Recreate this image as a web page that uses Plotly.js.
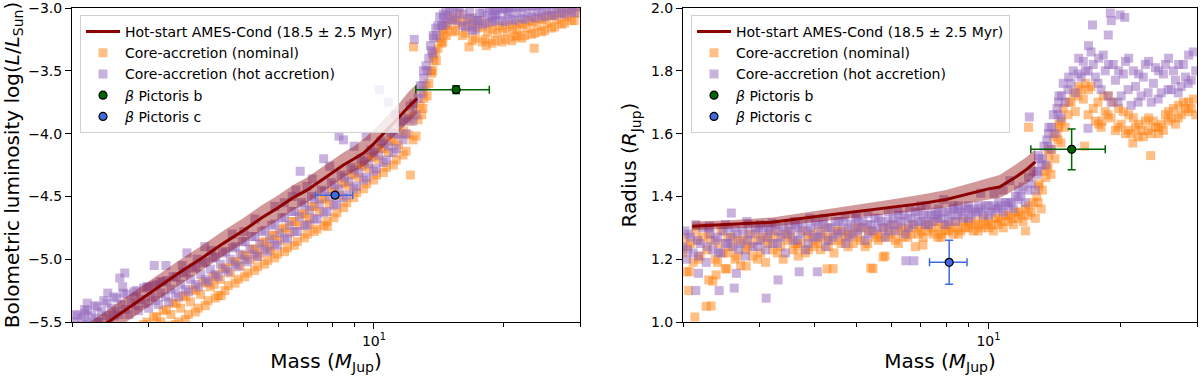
<!DOCTYPE html>
<html>
<head>
<meta charset="utf-8">
<script src="https://cdn.plot.ly/plotly-3.0.1.min.js"></script>
<style>html,body{margin:0;padding:0;background:#fff;}#chart{width:1200px;height:376px;}</style>
</head>
<body>
<div id="chart"></div>
<script>
// ---------------- Data ----------------
const seriesNames = ['Hot-start AMES-Cond (18.5 ± 2.5 Myr)', 'Core-accretion (nominal)', 'Core-accretion (hot accretion)'];

// Hot-start AMES-Cond track (luminosity panel)
const hsMassL = [2.0, 2.5, 3, 3.5, 4, 4.5, 5, 5.5, 6, 6.5, 7, 7.5, 8, 8.5, 9, 9.5, 10, 10.5, 11, 11.5, 12, 12.6];
const hsLum   = [-5.70, -5.47, -5.28, -5.12, -4.99, -4.87, -4.77, -4.67, -4.59, -4.51, -4.45, -4.38, -4.31, -4.25, -4.20, -4.15, -4.08, -4.00, -3.93, -3.86, -3.79, -3.72];
const hsLumUp = [-5.60, -5.37, -5.18, -5.02, -4.89, -4.77, -4.67, -4.57, -4.49, -4.41, -4.35, -4.28, -4.21, -4.15, -4.10, -4.04, -3.97, -3.89, -3.82, -3.75, -3.67, -3.60];
const hsLumLo = [-5.80, -5.57, -5.38, -5.22, -5.09, -4.97, -4.87, -4.77, -4.69, -4.61, -4.55, -4.48, -4.41, -4.35, -4.30, -4.26, -4.19, -4.11, -4.04, -3.97, -3.91, -3.84];

// Hot-start AMES-Cond track (radius panel)
const hsMassR = [2.1, 2.5, 3.2, 4, 5, 6, 7, 8, 9, 10, 10.6, 11.5, 12.2, 12.8];
const hsRad   = [1.305, 1.310, 1.318, 1.335, 1.352, 1.365, 1.377, 1.390, 1.408, 1.424, 1.430, 1.460, 1.485, 1.510];
const hsRadUp = [1.320, 1.323, 1.333, 1.353, 1.372, 1.390, 1.405, 1.420, 1.440, 1.458, 1.468, 1.500, 1.525, 1.550];
const hsRadLo = [1.292, 1.297, 1.303, 1.318, 1.333, 1.345, 1.355, 1.365, 1.378, 1.390, 1.395, 1.420, 1.440, 1.465];

// Core-accretion (nominal): mass, luminosity, radius
const nomMass = [
 2.0,2.02,2.04, 2.08,2.11,2.14, 2.19,2.22,2.26, 2.31,2.34,2.37, 2.44,2.47,2.5, 2.57,2.6,2.63, 2.71,2.74,2.78, 2.85,2.89,2.93,
 3.01,3.05,3.09, 3.17,3.21,3.25, 3.35,3.39,3.43, 3.53,3.57,3.62, 3.72,3.76,3.81, 3.92,3.97,4.02, 4.13,4.18,4.24, 4.36,4.41,4.46,
 4.6,4.65,4.71, 4.85,4.9,4.96, 5.1,5.16,5.22, 5.38,5.44,5.5, 5.68,5.74,5.8, 5.98,6.05,6.12, 6.31,6.38,6.45, 6.65,6.72,6.8,
 7.01,7.09,7.17, 7.39,7.47,7.56, 7.79,7.88,7.97, 8.21,8.3,8.4, 8.65,8.75,8.85, 9.12,9.23,9.34, 9.62,9.73,9.84, 10.14,10.26,10.38,
 10.69,10.81,10.94, 11.27,11.4,11.53, 11.87,12.0,12.14, 12.52,12.66,12.8, 12.9,13.05,13.2, 13.28,13.4,13.52, 13.6,13.75,13.9,
 13.95,14.07,14.2, 14.35,14.5,14.65, 14.7,14.83,14.98, 15.45,15.63,15.8, 16.3,16.48,16.66, 17.17,17.37,17.56, 18.1,18.31,18.5,
 19.08,19.3,19.52, 20.12,20.35,20.58, 21.2,21.45,21.7, 22.35,22.61,22.86, 23.57,23.84,24.1, 24.85,25.13,25.4, 26.2,26.49,26.78,
 27.6,27.92,28.23, 29.1,29.43,29.8,
 2.05,2.06, 2.16,2.17, 2.27,2.29, 2.4,2.41, 2.53,2.54, 2.66,2.68, 2.81,2.82, 2.96,2.98, 3.12,3.14, 3.29,3.31, 3.47,3.49,
 3.66,3.67, 3.86,3.87, 4.07,4.08, 4.29,4.3, 4.52,4.54, 4.77,4.78, 5.02,5.04, 5.29,5.31, 5.58,5.6, 5.89,5.9, 6.21,6.22,
 6.54,6.56, 6.9,6.91, 7.27,7.29, 7.66,7.69, 8.08,8.1, 8.51,8.54, 8.98,9.0, 9.47,9.49, 9.98,10.01, 10.52,10.55, 11.09,11.12,
 11.68,11.72, 12.31,12.35, 12.98,13.02, 13.68,13.72, 14.43,14.47, 15.2,15.26, 16.02,16.08, 16.9,16.94, 17.81,17.87,
 18.77,18.83, 19.79,19.85, 20.87,20.93, 22.0,22.06, 23.19,23.25, 24.45,24.51, 25.77,25.83, 27.17,27.23, 28.64,28.7,
 12.15, 23.5, 12.35, 16.6, 18.2, 21.4, 2.13, 2.32, 2.38, 2.29, 2.07, 2.52, 2.79, 4.27, 5.38, 5.74, 7.08, 7.8, 4.43
];
const nomLum = [
 -6.05,-5.95,-5.88, -5.98,-5.92,-5.85, -5.95,-5.87,-5.8, -5.9,-5.82,-5.74, -5.84,-5.76,-5.68, -5.78,-5.7,-5.62, -5.74,-5.66,-5.58, -5.7,-5.6,-5.52,
 -5.63,-5.55,-5.46, -5.58,-5.5,-5.41, -5.53,-5.44,-5.35, -5.5,-5.39,-5.29, -5.44,-5.34,-5.24, -5.39,-5.28,-5.18, -5.33,-5.22,-5.14, -5.29,-5.16,-5.07,
 -5.21,-5.11,-5.02, -5.16,-5.05,-4.97, -5.11,-5.0,-4.92, -5.06,-4.95,-4.87, -5.01,-4.9,-4.81, -4.96,-4.85,-4.76, -4.91,-4.79,-4.7, -4.86,-4.73,-4.64,
 -4.8,-4.67,-4.58, -4.76,-4.62,-4.52, -4.7,-4.56,-4.46, -4.63,-4.49,-4.4, -4.55,-4.42,-4.33, -4.47,-4.35,-4.26, -4.4,-4.28,-4.19, -4.33,-4.21,-4.12,
 -4.27,-4.15,-4.06, -4.21,-4.09,-4.0, -4.14,-4.01,-3.9, -4.02,-3.89,-3.78, -3.85,-3.72,-3.62, -3.7,-3.6,-3.5, -3.52,-3.42,-3.35,
 -3.42,-3.32,-3.24, -3.28,-3.2,-3.14, -3.22,-3.14,-3.07, -3.18,-3.12,-3.05, -3.2,-3.14,-3.08, -3.24,-3.16,-3.1, -3.25,-3.19,-3.12,
 -3.26,-3.2,-3.14, -3.25,-3.19,-3.13, -3.23,-3.17,-3.12, -3.22,-3.16,-3.1, -3.2,-3.14,-3.08, -3.18,-3.12,-3.06, -3.15,-3.09,-3.04,
 -3.12,-3.07,-3.02, -3.1,-3.04,-2.99,
 -5.97,-5.9, -5.93,-5.84, -5.9,-5.79, -5.86,-5.72, -5.8,-5.66, -5.75,-5.62, -5.69,-5.56, -5.64,-5.5, -5.6,-5.46, -5.56,-5.4, -5.52,-5.35,
 -5.48,-5.3, -5.42,-5.25, -5.37,-5.19, -5.31,-5.13, -5.25,-5.07, -5.19,-5.02, -5.14,-4.97, -5.09,-4.92, -5.04,-4.86, -4.99,-4.81, -4.94,-4.75,
 -4.89,-4.7, -4.83,-4.64, -4.78,-4.58, -4.73,-4.52, -4.67,-4.46, -4.59,-4.39, -4.51,-4.32, -4.44,-4.25, -4.37,-4.18, -4.31,-4.12, -4.25,-4.06,
 -4.17,-3.98, -4.05,-3.86, -3.8,-3.66, -3.5,-3.38, -3.27,-3.17, -3.19,-3.09, -3.22,-3.11, -3.26,-3.13, -3.27,-3.15,
 -3.28,-3.17, -3.27,-3.16, -3.26,-3.15, -3.24,-3.13, -3.21,-3.11, -3.19,-3.09, -3.16,-3.06, -3.13,-3.04, -3.1,-3.01,
 -4.33, -3.32, -3.31, -3.31, -3.3, -3.22, -5.92, -5.85, -5.82, -5.8, -5.93, -5.74, -5.62, -5.2, -4.98, -4.93, -4.72, -4.74, -5.29
];
const nomRad = [
 1.22,1.27,1.16, 1.25,1.19,1.29, 1.21,1.27,1.05, 1.26,1.13,1.2, 1.29,1.22,1.17, 1.24,1.27,1.2, 1.18,1.26,1.23, 1.25,1.21,1.28,
 1.22,1.27,1.19, 1.26,1.23,1.29, 1.24,1.2,1.28, 1.27,1.23,1.25, 1.25,1.29,1.22, 1.28,1.24,1.26, 1.23,1.27,1.3, 1.26,1.17,1.29,
 1.25,1.29,1.27, 1.28,1.25,1.3, 1.26,1.3,1.24, 1.29,1.17,1.27, 1.27,1.3,1.21, 1.28,1.31,1.26, 1.3,1.27,1.29, 1.28,1.31,1.24,
 1.29,1.27,1.31, 1.3,1.28,1.32, 1.28,1.31,1.29, 1.3,1.28,1.32, 1.29,1.32,1.3, 1.31,1.29,1.32, 1.3,1.33,1.31, 1.31,1.29,1.33,
 1.32,1.3,1.34, 1.33,1.31,1.35, 1.34,1.32,1.36, 1.35,1.38,1.33, 1.4,1.44,1.36, 1.42,1.48,1.46, 1.5,1.53,1.47,
 1.55,1.59,1.52, 1.6,1.63,1.57, 1.64,1.68,1.62, 1.7,1.73,1.67, 1.74,1.71,1.76, 1.75,1.68,1.64, 1.62,1.72,1.67,
 1.65,1.7,1.61, 1.63,1.67,1.6, 1.6,1.65,1.62, 1.61,1.59,1.64, 1.6,1.64,1.62, 1.63,1.61,1.66, 1.65,1.68,1.63,
 1.66,1.7,1.68, 1.68,1.71,1.66,
 1.24,1.1, 1.26,1.2, 1.23,1.28, 1.19,1.25, 1.27,1.22, 1.21,1.26, 1.24,1.28, 1.2,1.26, 1.25,1.28, 1.22,1.27, 1.26,1.29,
 1.24,1.21, 1.27,1.23, 1.25,1.29, 1.27,1.24, 1.29,1.26, 1.24,1.28, 1.27,1.3, 1.25,1.29, 1.28,1.26, 1.3,1.27, 1.29,1.25,
 1.27,1.3, 1.3,1.28, 1.29,1.31, 1.27,1.3, 1.31,1.29, 1.3,1.28, 1.32,1.3, 1.29,1.31, 1.32,1.3, 1.31,1.33, 1.32,1.34,
 1.33,1.35, 1.34,1.37, 1.38,1.43, 1.49,1.55, 1.58,1.62, 1.66,1.7, 1.72,1.75, 1.66,1.74, 1.7,1.63,
 1.66,1.72, 1.62,1.68, 1.61,1.66, 1.59,1.63, 1.61,1.65, 1.62,1.6, 1.64,1.67, 1.65,1.69, 1.67,1.7,
 1.29, 1.53, 1.62, 1.56, 1.64, 1.57, 1.016, 1.051, 1.15, 1.134, 1.16, 1.169, 1.178, 1.169, 1.172, 1.207, 1.245, 1.27, 1.22
];

// Core-accretion (hot accretion): mass, luminosity, radius
const hotMass = [
 2.0,2.02,2.04, 2.08,2.11,2.14, 2.19,2.22,2.26, 2.31,2.34,2.37, 2.44,2.47,2.5, 2.57,2.6,2.63, 2.71,2.74,2.78, 2.85,2.89,2.93,
 3.01,3.05,3.09, 3.17,3.21,3.25, 3.35,3.39,3.43, 3.53,3.57,3.62, 3.72,3.76,3.81, 3.92,3.97,4.02, 4.13,4.18,4.24, 4.36,4.41,4.46,
 4.6,4.65,4.71, 4.85,4.9,4.96, 5.1,5.16,5.22, 5.38,5.44,5.5, 5.68,5.74,5.8, 5.98,6.05,6.12, 6.31,6.38,6.45, 6.65,6.72,6.8,
 7.01,7.09,7.17, 7.39,7.47,7.56, 7.79,7.88,7.97, 8.21,8.3,8.4, 8.65,8.75,8.85, 9.12,9.23,9.34, 9.62,9.73,9.84, 10.14,10.26,10.38,
 10.69,10.81,10.94, 11.27,11.4,11.53, 11.87,12.0,12.14, 12.52,12.66,12.8, 12.9,13.05,13.2, 13.28,13.4,13.52, 13.6,13.75,13.9,
 13.95,14.07,14.2, 14.35,14.5,14.65, 14.7,14.83,14.98, 15.45,15.63,15.8, 16.3,16.48,16.66, 17.17,17.37,17.56, 18.1,18.31,18.5,
 19.08,19.3,19.52, 20.12,20.35,20.58, 21.2,21.45,21.7, 22.35,22.61,22.86, 23.57,23.84,24.1, 24.85,25.13,25.4, 26.2,26.49,26.78,
 27.6,27.92,28.23, 29.1,29.43,29.8,
 2.05,2.06, 2.16,2.17, 2.27,2.29, 2.4,2.41, 2.53,2.54, 2.66,2.68, 2.81,2.82, 2.96,2.98, 3.12,3.14, 3.29,3.31, 3.47,3.49,
 3.66,3.67, 3.86,3.87, 4.07,4.08, 4.29,4.3, 4.52,4.54, 4.77,4.78, 5.02,5.04, 5.29,5.31, 5.58,5.6, 5.89,5.9, 6.21,6.22,
 6.54,6.56, 6.9,6.91, 7.27,7.29, 7.66,7.69, 8.08,8.1, 8.51,8.54, 8.98,9.0, 9.47,9.49, 9.98,10.01, 10.52,10.55, 11.09,11.12,
 11.68,11.72, 12.31,12.35, 12.98,13.02, 13.68,13.72, 14.43,14.47, 15.2,15.26, 16.02,16.08, 16.9,16.94, 17.81,17.87,
 18.77,18.83, 19.79,19.85, 20.87,20.93, 22.0,22.06, 23.19,23.25, 24.45,24.51, 25.77,25.83, 27.17,27.23, 28.64,28.7,
 2.5, 2.8, 3.2, 3.6, 4.2, 4.7, 5.3, 5.9, 6.6, 7.2, 7.9, 9.6, 2.3, 3.0, 3.9, 5.0, 6.2, 7.0,
 2.42, 2.65, 2.62, 3.1, 3.3, 3.69, 6.75, 7.65, 8.3, 12.4, 10.3, 10.8, 11.2, 2.14, 2.17, 2.58, 4.06, 6.47,
 19.0, 20.0, 20.5, 19.1, 17.3, 18.8, 16.9, 8.5, 9.0
];
const hotLum = [
 -5.6,-5.5,-5.44, -5.55,-5.47,-5.4, -5.52,-5.45,-5.37, -5.5,-5.42,-5.33, -5.47,-5.39,-5.3, -5.44,-5.36,-5.27, -5.44,-5.35,-5.26, -5.41,-5.32,-5.23,
 -5.39,-5.3,-5.21, -5.36,-5.27,-5.18, -5.34,-5.24,-5.14, -5.3,-5.2,-5.11, -5.26,-5.16,-5.07, -5.22,-5.12,-5.03, -5.18,-5.08,-4.99, -5.14,-5.04,-4.95,
 -5.1,-5.0,-4.91, -5.06,-4.96,-4.86, -5.02,-4.92,-4.82, -4.98,-4.88,-4.78, -4.94,-4.84,-4.73, -4.89,-4.79,-4.67, -4.84,-4.73,-4.62, -4.78,-4.66,-4.55,
 -4.73,-4.61,-4.5, -4.68,-4.56,-4.45, -4.62,-4.5,-4.39, -4.56,-4.44,-4.33, -4.49,-4.38,-4.27, -4.42,-4.31,-4.2, -4.35,-4.24,-4.13, -4.28,-4.17,-4.06,
 -4.21,-4.1,-3.99, -4.12,-4.01,-3.91, -4.0,-3.88,-3.78, -3.85,-3.72,-3.62, -3.68,-3.56,-3.46, -3.5,-3.4,-3.3, -3.34,-3.24,-3.16,
 -3.22,-3.14,-3.07, -3.14,-3.08,-3.02, -3.12,-3.06,-3.0, -3.1,-3.04,-2.99, -3.15,-3.09,-3.03, -3.17,-3.1,-3.04, -3.12,-3.06,-3.0,
 -3.1,-3.05,-3.0, -3.11,-3.05,-2.99, -3.1,-3.04,-2.99, -3.09,-3.04,-2.98, -3.08,-3.03,-2.98, -3.07,-3.02,-2.97, -3.06,-3.01,-2.97,
 -3.05,-3.0,-2.96, -3.04,-2.99,-2.95,
 -5.53,-5.45, -5.5,-5.41, -5.47,-5.38, -5.45,-5.35, -5.42,-5.31, -5.4,-5.28, -5.37,-5.25, -5.35,-5.22, -5.33,-5.2, -5.3,-5.17, -5.27,-5.14,
 -5.24,-5.1, -5.2,-5.06, -5.16,-5.02, -5.12,-4.98, -5.08,-4.94, -5.04,-4.9, -5.0,-4.86, -4.96,-4.82, -4.92,-4.77, -4.88,-4.72, -4.83,-4.67,
 -4.78,-4.62, -4.73,-4.57, -4.68,-4.52, -4.63,-4.46, -4.57,-4.41, -4.51,-4.35, -4.44,-4.29, -4.37,-4.22, -4.3,-4.15, -4.23,-4.08, -4.15,-4.0,
 -4.05,-3.9, -3.9,-3.76, -3.62,-3.5, -3.36,-3.22, -3.14,-3.05, -3.09,-3.02, -3.14,-3.05, -3.18,-3.08, -3.13,-3.04,
 -3.11,-3.02, -3.1,-3.01, -3.09,-3.0, -3.08,-3.0, -3.07,-2.99, -3.06,-2.99, -3.05,-2.98, -3.04,-2.97, -3.03,-2.97,
 -5.45, -5.3, -5.18, -5.05, -4.93, -4.8, -4.68, -4.58, -4.45, -4.36, -4.26, -4.02, -5.5, -5.22, -5.0, -4.78, -4.55, -4.42,
 -5.27, -5.11, -5.22, -5.05, -5.05, -4.95, -4.3, -4.2, -4.02, -3.25, -3.65, -3.75, -3.85, -5.43, -5.35, -5.15, -4.9, -4.5,
 -3.02, -3.0, -3.03, -3.06, -3.1, -3.08, -3.15, -4.05, -4.1
];
const hotRad = [
 1.24,1.29,1.2, 1.27,1.22,1.31, 1.25,1.3,1.19, 1.28,1.23,1.26, 1.22,1.29,1.25, 1.27,1.24,1.3, 1.25,1.29,1.21, 1.28,1.24,1.3,
 1.26,1.3,1.23, 1.29,1.25,1.31, 1.27,1.3,1.22, 1.29,1.26,1.31, 1.28,1.31,1.23, 1.3,1.27,1.32, 1.28,1.31,1.24, 1.3,1.27,1.32,
 1.29,1.32,1.25, 1.31,1.28,1.33, 1.3,1.32,1.26, 1.31,1.29,1.33, 1.32,1.3,1.27, 1.31,1.33,1.29, 1.32,1.34,1.28, 1.33,1.31,1.35,
 1.32,1.34,1.31, 1.34,1.32,1.35, 1.33,1.35,1.31, 1.34,1.36,1.32, 1.35,1.33,1.36, 1.34,1.36,1.35, 1.36,1.34,1.37, 1.35,1.37,1.36,
 1.37,1.35,1.38, 1.38,1.36,1.4, 1.4,1.43,1.38, 1.44,1.48,1.42, 1.47,1.52,1.5, 1.52,1.56,1.5, 1.58,1.62,1.55,
 1.62,1.66,1.6, 1.68,1.72,1.65, 1.72,1.76,1.7, 1.76,1.8,1.73, 1.78,1.83,1.8, 1.86,1.82,1.78, 1.74,1.85,1.8,
 1.7,1.82,1.77, 1.72,1.79,1.83, 1.69,1.8,1.75, 1.72,1.78,1.82, 1.7,1.76,1.81, 1.73,1.79,1.82, 1.74,1.8,1.77,
 1.75,1.82,1.78, 1.77,1.86,1.8,
 1.23,1.28, 1.26,1.21, 1.24,1.3, 1.27,1.22, 1.25,1.3, 1.28,1.23, 1.26,1.31, 1.24,1.29, 1.27,1.3, 1.25,1.29, 1.28,1.31,
 1.26,1.3, 1.29,1.25, 1.27,1.31, 1.3,1.26, 1.28,1.32, 1.3,1.27, 1.29,1.32, 1.31,1.28, 1.3,1.33, 1.32,1.29, 1.31,1.34,
 1.33,1.3, 1.32,1.35, 1.34,1.31, 1.33,1.36, 1.35,1.32, 1.34,1.37, 1.36,1.33, 1.35,1.37, 1.37,1.34, 1.36,1.38, 1.38,1.37,
 1.39,1.42, 1.42,1.46, 1.48,1.53, 1.56,1.6, 1.66,1.7, 1.74,1.78, 1.79,1.84, 1.8,1.88, 1.76,1.84,
 1.72,1.82, 1.7,1.8, 1.74,1.84, 1.7,1.79, 1.73,1.83, 1.71,1.8, 1.74,1.84, 1.73,1.82, 1.76,1.85,
 1.31, 1.32, 1.315, 1.32, 1.33, 1.335, 1.345, 1.35, 1.36, 1.37, 1.39, 1.41, 1.305, 1.31, 1.33, 1.34, 1.355, 1.37,
 1.10, 1.155, 1.108, 1.076, 1.134, 1.16, 1.195, 1.34, 1.37, 1.653, 1.41, 1.42, 1.45, 1.10, 1.155, 1.347, 1.16, 1.195,
 1.984, 1.978, 1.97, 1.96, 1.946, 1.914, 1.617, 1.36, 1.37
];

// Beta Pictoris planets
const planetNames   = ['<i>β</i> Pictoris b', '<i>β</i> Pictoris c'];
const planetMass    = [15.5, 8.13];
const planetMassErr = [3.0, 0.8];
const planetLum     = [-3.65, -4.49];
const planetLumErr  = [0.03, 0.02];
const planetRad     = [1.55, 1.19];
const planetRadErr  = [0.065, 0.07];
const planetColors  = ['#006400', '#4169e1'];

// ---------------- Styles ----------------
const FONT = 'DejaVu Sans, sans-serif';
const ORANGE = '#ff7f0e', PURPLE = '#9467bd', DARKRED = '#8b0000';

function panelTraces(xa, ya, lg, nomY, hotY, hsX, hsY, hsUp, hsLo, pY, pYerr) {
  const t = [];
  t.push({type:'scatter', mode:'markers', x:nomMass, y:nomY, xaxis:xa, yaxis:ya, legend:lg,
    name:seriesNames[1], legendrank:2,
    marker:{symbol:'square', size:9, color:ORANGE, opacity:0.5, line:{width:0}}, hoverinfo:'skip'});
  t.push({type:'scatter', mode:'markers', x:hotMass, y:hotY, xaxis:xa, yaxis:ya, legend:lg,
    name:seriesNames[2], legendrank:3,
    marker:{symbol:'square', size:9, color:PURPLE, opacity:0.5, line:{width:0}}, hoverinfo:'skip'});
  t.push({type:'scatter', mode:'lines', x:hsX.concat(hsX.slice().reverse()), y:hsUp.concat(hsLo.slice().reverse()),
    xaxis:xa, yaxis:ya, legend:lg, fill:'toself', fillcolor:'rgba(139,0,0,0.4)', line:{width:0},
    showlegend:false, hoverinfo:'skip'});
  t.push({type:'scatter', mode:'lines', x:hsX, y:hsY, xaxis:xa, yaxis:ya, legend:lg,
    name:seriesNames[0], legendrank:1, line:{color:DARKRED, width:3}});
  for (let i = 0; i < planetNames.length; i++) {
    t.push({type:'scatter', mode:'markers', x:[planetMass[i]], y:[pY[i]], xaxis:xa, yaxis:ya, legend:lg,
      name:planetNames[i], legendrank:4 + i,
      marker:{symbol:'circle', size:8, color:planetColors[i], line:{color:'black', width:1.2}},
      error_x:{type:'data', array:[planetMassErr[i]], color:planetColors[i], thickness:1.5, width:4},
      error_y:{type:'data', array:[pYerr[i]], color:planetColors[i], thickness:1.5, width:4}});
  }
  return t;
}

const data = [].concat(
  panelTraces('x', 'y', 'legend', nomLum, hotLum, hsMassL, hsLum, hsLumUp, hsLumLo, planetLum, planetLumErr),
  panelTraces('x2', 'y2', 'legend2', nomRad, hotRad, hsMassR, hsRad, hsRadUp, hsRadLo, planetRad, planetRadErr)
);

const axisBase = {
  showline:true, mirror:true, linecolor:'black', linewidth:1,
  ticks:'outside', ticklen:6, tickwidth:1, tickcolor:'black',
  showgrid:false, zeroline:false, automargin:false, ticklabeloverflow:'allow',
  tickfont:{family:FONT, size:14, color:'black'}
};
function xAxis(domain, anchor) {
  return Object.assign({}, axisBase, {
    type:'log', range:[Math.log10(2), Math.log10(30)], domain:domain, anchor:anchor,
    tickmode:'array', tickvals:[10], ticktext:['10<sup>1</sup>'],
    minor:{tickmode:'array', tickvals:[2,3,4,5,6,7,8,9,20,30], ticks:'outside', ticklen:3.5, tickcolor:'black', tickwidth:1},
    title:{text:'Mass (<i>M</i><sub>Jup</sub>)', font:{family:FONT, size:20, color:'black'}, standoff:6}
  });
}
const yDomain = [1 - 322/376, 1 - 8/376];
const legendBase = {
  xanchor:'left', yanchor:'top', bgcolor:'rgba(255,255,255,0.8)', bordercolor:'#d0d0d0', borderwidth:1,
  font:{family:FONT, size:14, color:'black'}, itemwidth:34, tracegroupgap:0
};

const layout = {
  width:1200, height:376, margin:{l:0, r:0, t:0, b:0},
  paper_bgcolor:'white', plot_bgcolor:'white',
  font:{family:FONT, color:'black'},
  showlegend:true,
  xaxis: xAxis([72/1200, 580/1200], 'y'),
  xaxis2: xAxis([683/1200, 1197/1200], 'y2'),
  yaxis: Object.assign({}, axisBase, {
    domain:yDomain, anchor:'x', range:[-5.5, -3.0], tickmode:'array',
    tickvals:[-5.5, -5.0, -4.5, -4.0, -3.5, -3.0], tickformat:'.1f',
    title:{text:'Bolometric luminosity log(<i>L</i>/<i>L</i><sub>Sun</sub>)', font:{family:FONT, size:20, color:'black'}, standoff:8}
  }),
  yaxis2: Object.assign({}, axisBase, {
    domain:yDomain, anchor:'x2', range:[1.0, 2.0], tickmode:'array',
    tickvals:[1.0, 1.2, 1.4, 1.6, 1.8, 2.0], tickformat:'.1f',
    title:{text:'Radius (<i>R</i><sub>Jup</sub>)', font:{family:FONT, size:20, color:'black'}, standoff:8}
  }),
  legend: Object.assign({}, legendBase, {x:80/1200, y:1 - 15/376}),
  legend2: Object.assign({}, legendBase, {x:691/1200, y:1 - 15/376})
};

Plotly.newPlot('chart', data, layout, {staticPlot:true, displayModeBar:false});
</script>
</body>
</html>
